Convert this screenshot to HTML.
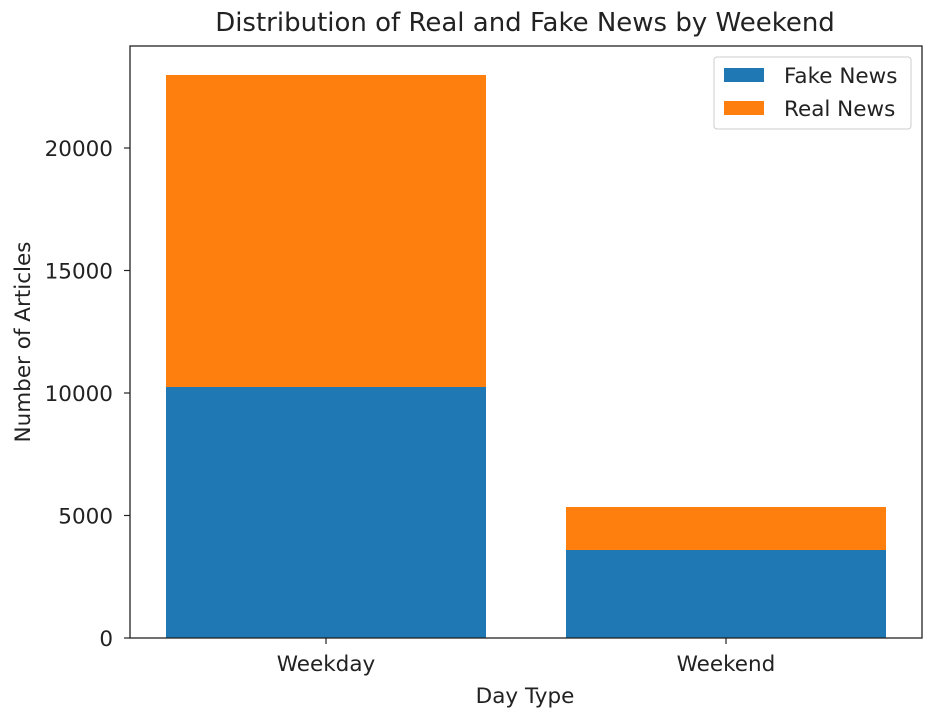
<!DOCTYPE html>
<html><head><meta charset="utf-8"><style>
body{margin:0;background:#fff;}
svg text{font-family:"DejaVu Sans","Liberation Sans",sans-serif;fill:#222;}
</style></head><body>
<svg id="chart" width="931" height="718" xmlns="http://www.w3.org/2000/svg">
<text x="525" y="31" font-size="26" text-anchor="middle">Distribution of Real and Fake News by Weekend</text>
<g id="bars"></g>
<g id="axes"></g>
<text x="525" y="703" font-size="21.5" text-anchor="middle">Day Type</text>
<text transform="translate(30,342) rotate(-90)" font-size="21.5" text-anchor="middle">Number of Articles</text>
<g>
<rect x="714" y="57" width="197" height="72" fill="#fff" stroke="#ccc" rx="3"/>
<rect x="724" y="68" width="40" height="14" fill="#1f77b4"/>
<text x="784" y="83" font-size="21.5">Fake News</text>
<rect x="724" y="101" width="40" height="14" fill="#ff7f0e"/>
<text x="784" y="116" font-size="21.5">Real News</text>
</g>
</svg>
<script>
const categories = ["Weekday", "Weekend"];
const fakeValues = [10245, 3592];
const realValues = [12735, 1755];
const yTicks = [0, 5000, 10000, 15000, 20000];

const L=130,R=922,T=46,B=638,yMax=24163;
const y=v=>B-(B-T)*v/yMax;
const xMin=-0.49,xMax=1.49;
const x=c=>L+(R-L)*(c-xMin)/(xMax-xMin);
const unit=(R-L)/(xMax-xMin);
const NS="http://www.w3.org/2000/svg";
const bars=document.getElementById('bars'),axes=document.getElementById('axes');
function mk(tag,attrs,parent){const e=document.createElementNS(NS,tag);for(const k in attrs)e.setAttribute(k,attrs[k]);parent.appendChild(e);return e;}
categories.forEach((c,i)=>{
  const w=0.8*unit,x0=x(i)-w/2;
  const f=mk('rect',{x:x0,y:y(fakeValues[i]),width:w,height:B-y(fakeValues[i]),fill:'#1f77b4'},bars);
  
  
  const tot=fakeValues[i]+realValues[i];
  const r=mk('rect',{x:x0,y:y(tot),width:w,height:y(fakeValues[i])-y(tot),fill:'#ff7f0e'},bars);
  
  
  mk('line',{x1:x(i),x2:x(i),y1:B,y2:B+6,stroke:'#222','stroke-width':1.2},axes);
  const t=mk('text',{x:x(i),y:B+33,'font-size':21.5,'text-anchor':'middle'},axes);
  t.textContent=c;
  
  
});
yTicks.forEach(v=>{
  mk('line',{x1:L-6,x2:L,y1:y(v),y2:y(v),stroke:'#222','stroke-width':1.2},axes);
  const t=mk('text',{x:L-17,y:y(v)+8,'font-size':21.5,'text-anchor':'end'},axes);
  t.textContent=v;
  
  
});
const fr=mk('rect',{x:L,y:T,width:R-L,height:B-T,fill:'none',stroke:'#222','stroke-width':1.3},axes);


</script>
</body></html>
